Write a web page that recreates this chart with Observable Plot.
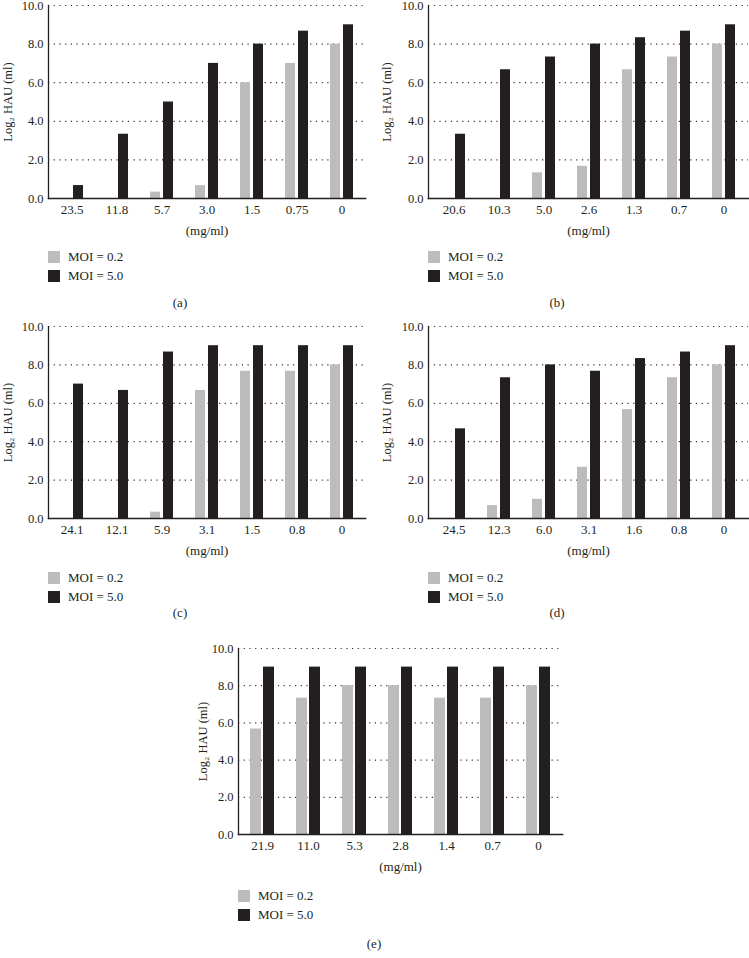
<!DOCTYPE html>
<html>
<head>
<meta charset="utf-8">
<script src="https://cdn.jsdelivr.net/npm/d3@7"></script>
<script src="https://cdn.jsdelivr.net/npm/@observablehq/plot@0.6"></script>
<style>
  html, body { margin: 0; padding: 0; background: #fff; }
  body { width: 749px; height: 958px; position: relative; overflow: hidden; font-family: "Liberation Serif", serif; color: #231f20; }
  .panel { position: absolute; }
  .leg { position: absolute; font-size: 13px; line-height: 12px; white-space: nowrap; }
  .sw { position: absolute; width: 12px; height: 12px; }
  .cap { position: absolute; font-size: 13px; transform: translateX(-50%); }
</style>
</head>
<body>
<script>
// ---- data ----
const catsA = ["23.5", "11.8", "5.7", "3.0", "1.5", "0.75", "0"];
const moi02A = [0, 0, 0.33, 0.67, 6, 7, 8];
const moi50A = [0.67, 3.33, 5, 7, 8, 8.67, 9];

const catsB = ["20.6", "10.3", "5.0", "2.6", "1.3", "0.7", "0"];
const moi02B = [0, 0, 1.33, 1.67, 6.67, 7.33, 8];
const moi50B = [3.33, 6.67, 7.33, 8, 8.33, 8.67, 9];

const catsC = ["24.1", "12.1", "5.9", "3.1", "1.5", "0.8", "0"];
const moi02C = [0, 0, 0.33, 6.67, 7.67, 7.67, 8];
const moi50C = [7, 6.67, 8.67, 9, 9, 9, 9];

const catsD = ["24.5", "12.3", "6.0", "3.1", "1.6", "0.8", "0"];
const moi02D = [0, 0.67, 1, 2.67, 5.67, 7.33, 8];
const moi50D = [4.67, 7.33, 8, 7.67, 8.33, 8.67, 9];

const catsE = ["21.9", "11.0", "5.3", "2.8", "1.4", "0.7", "0"];
const moi02E = [5.67, 7.33, 8, 8, 7.33, 7.33, 8];
const moi50E = [9, 9, 9, 9, 9, 9, 9];

const yTicks = [0, 2, 4, 6, 8, 10];
const seriesNames = ["MOI = 0.2", "MOI = 5.0"];
const seriesColors = ["#bcbcbc", "#231f20"];
const xLabel = "(mg/ml)";
const yLabel = "Log\u2082 HAU (ml)";

// ---- layout of panels ----
const panels = [
  {cats: catsA, a: moi02A, b: moi50A, cap: "(a)", left: 0,   top: 0,   width: 370, mTop: 5,  plotH: 193, mLeft: 48, mRight: 5,  yOff: 45, capX: 180, capY: 295, legY: 251},
  {cats: catsB, a: moi02B, b: moi50B, cap: "(b)", left: 374, top: 0,   width: 375, mTop: 5,  plotH: 193, mLeft: 54, mRight: 1,  yOff: 46, capX: 557, capY: 295, legY: 251},
  {cats: catsC, a: moi02C, b: moi50C, cap: "(c)", left: 0,   top: 310, width: 370, mTop: 16, plotH: 192, mLeft: 48, mRight: 5,  yOff: 45, capX: 180, capY: 605, legY: 572},
  {cats: catsD, a: moi02D, b: moi50D, cap: "(d)", left: 374, top: 310, width: 375, mTop: 16, plotH: 192, mLeft: 54, mRight: 1,  yOff: 46, capX: 557, capY: 605, legY: 572},
  {cats: catsE, a: moi02E, b: moi50E, cap: "(e)", left: 180, top: 620, width: 386, mTop: 28, plotH: 186, mLeft: 58, mRight: 4,  yOff: 40, capX: 374, capY: 936, legY: 890}
];

const mBottom = 42;

for (const p of panels) {
  const rows = p.cats.map((c, i) => ({cat: c, v02: p.a[i], v50: p.b[i]}));
  const chart = Plot.plot({
    width: p.width,
    height: p.mTop + p.plotH + mBottom,
    marginTop: p.mTop,
    marginLeft: p.mLeft,
    marginRight: p.mRight,
    marginBottom: mBottom,
    style: {fontFamily: "Liberation Serif, serif", fontSize: "13px", color: "#231f20", background: "transparent"},
    x: {domain: p.cats, padding: 0, label: xLabel},
    y: {domain: [0, 10], label: yLabel},
    marks: [
      Plot.gridY(yTicks, {stroke: "#333", strokeOpacity: 1, strokeWidth: 1.2, strokeDasharray: "1.2,4.5"}),
      Plot.barY(rows, {x: "cat", y: "v02", fill: seriesColors[0], insetLeft: 11, insetRight: 24}),
      Plot.barY(rows, {x: "cat", y: "v50", fill: seriesColors[1], insetLeft: 24, insetRight: 11}),
      Plot.axisX({tickSize: 0, tickPadding: 6, label: xLabel, labelAnchor: "center", labelArrow: "none", labelOffset: 36, fontSize: 13}),
      Plot.axisY({ticks: yTicks, tickFormat: d3.format(".1f"), tickSize: 0, tickPadding: 5, label: yLabel, labelAnchor: "center", labelArrow: "none", labelOffset: p.yOff, fontSize: 12.5}),
      Plot.frame({anchor: "left", stroke: "#231f20", strokeWidth: 1.3}),
      Plot.frame({anchor: "bottom", stroke: "#231f20", strokeWidth: 1.6})
    ]
  });
  const wrap = document.createElement("div");
  wrap.className = "panel";
  wrap.style.left = p.left + "px";
  wrap.style.top = p.top + "px";
  wrap.appendChild(chart);
  document.body.appendChild(wrap);

  // legend
  seriesNames.forEach((name, i) => {
    const sw = document.createElement("div");
    sw.className = "sw";
    sw.style.background = seriesColors[i];
    sw.style.left = (p.left + p.mLeft) + "px";
    sw.style.top = (p.legY + i * 19) + "px";
    document.body.appendChild(sw);
    const t = document.createElement("div");
    t.className = "leg";
    t.textContent = name;
    t.style.left = (p.left + p.mLeft + 20) + "px";
    t.style.top = (p.legY + i * 19) + "px";
    document.body.appendChild(t);
  });

  const cap = document.createElement("div");
  cap.className = "cap";
  cap.textContent = p.cap;
  cap.style.left = p.capX + "px";
  cap.style.top = p.capY + "px";
  document.body.appendChild(cap);
}
</script>
</body>
</html>
